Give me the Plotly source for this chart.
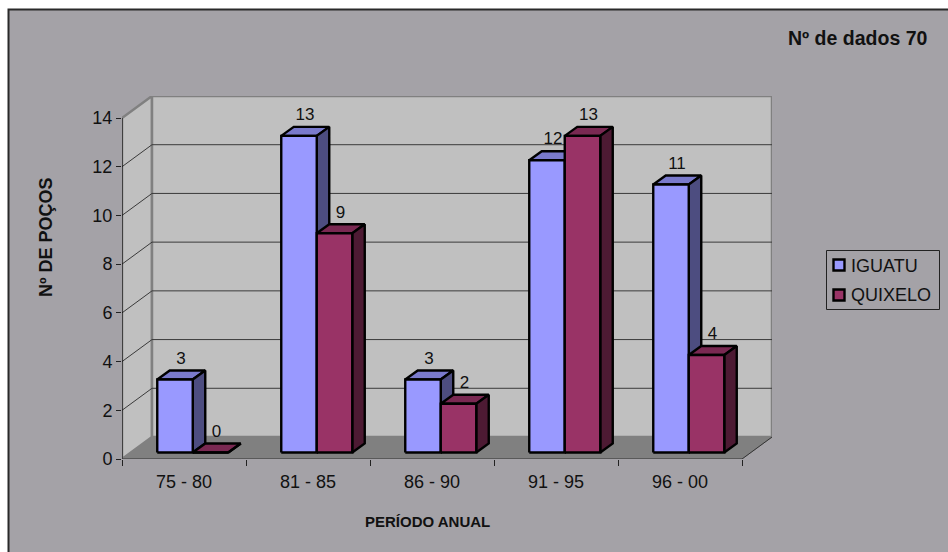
import plotly.graph_objects as go

# Well counts per period for each municipality
categories = ["75 - 80", "81 - 85", "86 - 90", "91 - 95", "96 - 00"]
iguatu = [3, 13, 3, 12, 11]
quixelo = [0, 9, 2, 13, 4]
y_ticks = [0, 2, 4, 6, 8, 10, 12, 14]
y_max = 14

W, H = 948, 552
FONT = "Liberation Sans, Arial, sans-serif"
GRAY = "#A4A2A7"
TEXT = "#111111"

# Pixel layout of the oblique projection
AX_LEFT, AX_RIGHT_BACK = 122, 772
AX_BOTTOM, AX_TOP_BACK = 459, 96
UX = 124.0      # pixels per category
UY = 24.36      # pixels per well
DEPTH_X, DEPTH_Y = 30 / UX, 22 / UY          # depth of the floor
BAR_DX, BAR_DY = 12.5 / UX, 9 / UY           # depth of a bar
OFF_X, OFF_Y = 8.75 / UX, 6.5 / UY           # bar set-back from the front edge
BAR_W = 35.5 / UX
GAP = (1 - 2 * BAR_W) / 2
n = len(categories)


def poly(xs, ys, fill, line, width=2.4):
    return go.Scatter(x=xs + xs[:1], y=ys + ys[:1], mode="lines", fill="toself",
                      fillcolor=fill, line=dict(color=line, width=width),
                      hoverinfo="skip", showlegend=False, cliponaxis=False)


def path(xs, ys, color, width=1):
    return go.Scatter(x=xs, y=ys, mode="lines", line=dict(color=color, width=width),
                      hoverinfo="skip", showlegend=False, cliponaxis=False)


def bar_traces(i, slot, value, front, top, side):
    x0 = i + GAP + slot * BAR_W + OFF_X
    x1 = x0 + BAR_W
    y0 = OFF_Y
    y1 = OFF_Y + value
    return [
        poly([x0, x0 + BAR_DX, x1 + BAR_DX, x1], [y1, y1 + BAR_DY, y1 + BAR_DY, y1], top, "#000000"),
        poly([x1, x1 + BAR_DX, x1 + BAR_DX, x1], [y0, y0 + BAR_DY, y1 + BAR_DY, y1], side, "#000000"),
        poly([x0, x1, x1, x0], [y0, y0, y1, y1], front, "#000000"),
    ]


fig = go.Figure()

# Walls and floor
fig.add_trace(poly([0, DEPTH_X, DEPTH_X, 0], [0, DEPTH_Y, y_max + DEPTH_Y, y_max], "#C0C0C0", "#808080", 2.5))
fig.add_trace(poly([DEPTH_X, n + DEPTH_X, n + DEPTH_X, DEPTH_X],
                   [DEPTH_Y, DEPTH_Y, y_max + DEPTH_Y, y_max + DEPTH_Y], "#C0C0C0", "#808080", 2.5))
fig.add_trace(poly([0, n, n + DEPTH_X, DEPTH_X], [0, 0, DEPTH_Y, DEPTH_Y], "#808080", "#808080", 1))

# Gridlines across the left wall and the back wall
grid_x, grid_y = [], []
for v in y_ticks[1:-1]:
    grid_x += [0, DEPTH_X, n + DEPTH_X, None]
    grid_y += [v, v + DEPTH_Y, v + DEPTH_Y, None]
fig.add_trace(path(grid_x, grid_y, "#3A3A3A", 1))

# Front axis lines and right floor edge
fig.add_trace(path([0, 0], [0, y_max], "#000000", 1))
fig.add_trace(path([0, n, n + DEPTH_X], [0, 0, DEPTH_Y], "#333333", 1))

# Bars, back to front within each period
for i in range(n):
    for t in bar_traces(i, 0, iguatu[i], "#9999FF", "#7A7ACC", "#4D4D80"):
        fig.add_trace(t)
    for t in bar_traces(i, 1, quixelo[i], "#993366", "#7A2952", "#4D1A33"):
        fig.add_trace(t)

# Value labels above each bar
LABEL_DX, LABEL_DY = 6 / UX, 20 / UY
for slot, vals in enumerate([iguatu, quixelo]):
    fig.add_trace(go.Scatter(
        x=[i + GAP + (slot + 0.5) * BAR_W + OFF_X + LABEL_DX for i in range(n)],
        y=[v + OFF_Y + LABEL_DY for v in vals],
        text=[str(v) for v in vals], mode="text", textposition="middle center",
        textfont=dict(family=FONT, size=17, color=TEXT),
        hoverinfo="skip", showlegend=False, cliponaxis=False))

# Legend entries; the swatches and the box are drawn as rectangles below
for name in ["IGUATU", "QUIXELO"]:
    fig.add_trace(go.Scatter(x=[None], y=[None], mode="markers", name=name, legendgroup=name,
                             marker=dict(symbol="square", size=1, color="rgba(0,0,0,0)")))

swatches = [(265, "#9999FF"), (295, "#993366")]
swatch_shapes = [dict(type="rect", xref="paper", yref="paper", layer="above",
                      x0=833.5 / W, x1=844.5 / W, y0=1 - (yc + 5.5) / H, y1=1 - (yc - 5.5) / H,
                      fillcolor=c, line=dict(color="#000000", width=2.4)) for yc, c in swatches]
legend_box = dict(type="rect", xref="paper", yref="paper", layer="above",
                  x0=826.5 / W, x1=939.5 / W, y0=1 - 309.5 / H, y1=1 - 250.5 / H,
                  fillcolor="rgba(0,0,0,0)", line=dict(color="#222222", width=1))

fig.update_layout(
    width=W, height=H, margin=dict(l=0, r=0, t=0, b=0),
    paper_bgcolor="#FFFFFF", plot_bgcolor="rgba(0,0,0,0)",
    font=dict(family=FONT, color=TEXT),
    xaxis=dict(domain=[AX_LEFT / W, AX_RIGHT_BACK / W], range=[0, n + DEPTH_X], automargin=False,
               tickmode="array", tickvals=[i + 0.5 for i in range(n)], ticktext=categories,
               ticks="", ticklabelstandoff=10, tickfont=dict(size=18, family=FONT, color=TEXT),
               showgrid=False, zeroline=False, showline=False,
               minor=dict(tickmode="array", tickvals=list(range(n + 1)), ticks="outside",
                          ticklen=6, tickwidth=1, tickcolor="#222222", showgrid=False)),
    yaxis=dict(domain=[1 - AX_BOTTOM / H, 1 - AX_TOP_BACK / H], range=[0, y_max + DEPTH_Y], automargin=False,
               tickmode="array", tickvals=y_ticks, ticktext=[str(v) for v in y_ticks],
               ticks="outside", ticklen=5, tickwidth=1, tickcolor="#222222",
               tickfont=dict(size=18, family=FONT, color=TEXT),
               showgrid=False, zeroline=False, showline=False),
    legend=dict(x=826 / W, y=1 - 247 / H, xanchor="left", yanchor="top",
                bgcolor="rgba(0,0,0,0)", borderwidth=0,
                font=dict(size=18, family=FONT, color=TEXT),
                itemsizing="trace", indentation=-15,
                traceorder="grouped", tracegroupgap=2),
    shapes=[dict(type="rect", xref="paper", yref="paper", layer="below",
                 x0=8.5 / W, x1=1.02, y0=-0.02, y1=1 - 9.5 / H,
                 fillcolor=GRAY, line=dict(color="#2A2A2A", width=2)), legend_box] + swatch_shapes,
    annotations=[
        dict(text="<b>Nº de dados 70</b>", xref="paper", yref="paper", x=857 / W, y=1 - 38 / H,
             showarrow=False, xanchor="center", yanchor="middle",
             font=dict(size=19.5, family=FONT, color=TEXT)),
        dict(text="<b>PERÍODO ANUAL</b>", xref="paper", yref="paper", x=427 / W, y=1 - 521 / H,
             showarrow=False, xanchor="center", yanchor="middle",
             font=dict(size=15, family=FONT, color=TEXT)),
        dict(text="<b>Nº DE POÇOS</b>", xref="paper", yref="paper", x=46 / W, y=1 - 237 / H,
             showarrow=False, xanchor="center", yanchor="middle", textangle=-90,
             font=dict(size=18, family=FONT, color=TEXT)),
    ],
)

fig.write_html("out.html")
